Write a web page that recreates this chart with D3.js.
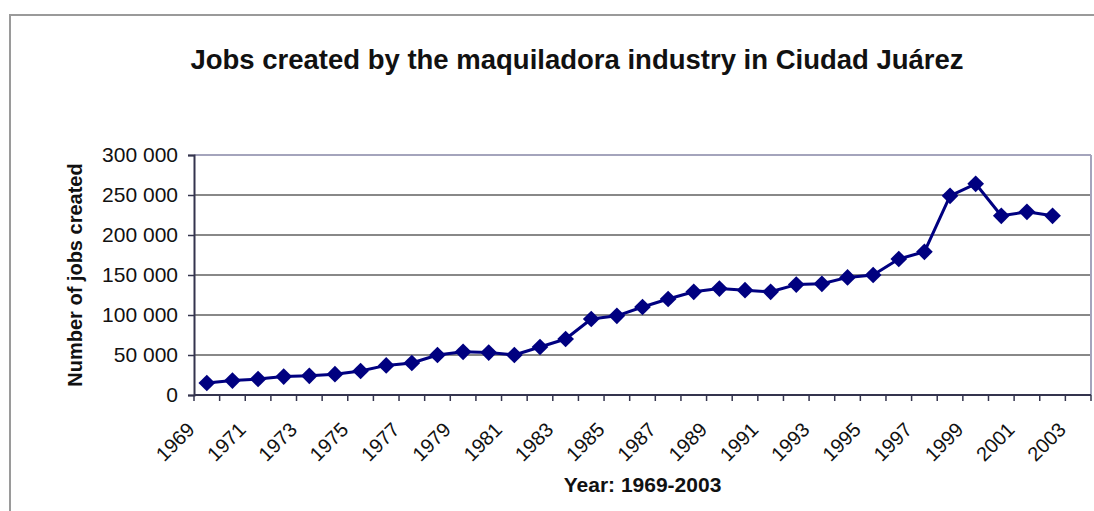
<!DOCTYPE html>
<html>
<head>
<meta charset="utf-8">
<script src="https://cdn.jsdelivr.net/npm/d3@7"></script>
<style>
  html, body { margin: 0; padding: 0; background: #fff; }
  svg { display: block; font-family: "Liberation Sans", Arial, sans-serif; }
</style>
</head>
<body>
<svg id="chart" width="1094" height="511"></svg>
<script>
// Category axis: one slot per year
const years = d3.range(1969, 2004);
// Jobs created per year (2003 has no reported value)
const jobs = [
  15000, 18000, 20000, 23000, 24000, 26000, 30000, 37000, 40000, 50000,
  54000, 53000, 50000, 60000, 70000, 95000, 99000, 110000, 120000, 129000,
  133000, 131000, 129000, 138000, 139000, 147000, 150000, 170000, 179000, 249000,
  264000, 224000, 229000, 224000, null
];
const yTicks = [0, 50000, 100000, 150000, 200000, 250000, 300000];
const xLabelYears = years.filter((y, i) => i % 2 === 0);

const titleText = "Jobs created by the maquiladora industry in Ciudad Juárez";
const yTitle = "Number of jobs created";
const xTitle = "Year: 1969-2003";

const svg = d3.select("#chart");
const plot = { left: 194, right: 1091, top: 155, bottom: 395 };

const locale = d3.formatLocale({ decimal: ".", thousands: " ", grouping: [3], currency: ["", ""] });
const fmt = locale.format(",d");

const x = d3.scaleBand().domain(years).range([plot.left, plot.right]).padding(0);
const y = d3.scaleLinear().domain([0, 300000]).range([plot.bottom, plot.top]);

// Outer chart frame
svg.append("rect")
  .attr("x", 10).attr("y", 15).attr("width", 1200).attr("height", 600)
  .attr("fill", "none").attr("stroke", "#9a9a9a").attr("stroke-width", 2);

// Title
svg.append("text")
  .attr("x", 577).attr("y", 69)
  .attr("text-anchor", "middle")
  .attr("font-size", 27.5).attr("font-weight", "bold").attr("fill", "#111")
  .text(titleText);

// Horizontal gridlines
svg.append("g")
  .selectAll("line")
  .data(yTicks.filter(d => d > 0))
  .join("line")
  .attr("x1", plot.left).attr("x2", plot.right)
  .attr("y1", d => y(d)).attr("y2", d => y(d))
  .attr("stroke", d => d === 300000 ? "#a4a4bc" : "#888888")
  .attr("stroke-width", 2);

// Right border of the plot area
svg.append("line")
  .attr("x1", plot.right).attr("x2", plot.right)
  .attr("y1", plot.top).attr("y2", plot.bottom)
  .attr("stroke", "#a4a4bc").attr("stroke-width", 2);

// Y axis
const yAxis = svg.append("g")
  .attr("transform", `translate(${plot.left},0)`)
  .call(d3.axisLeft(y).tickValues(yTicks).tickFormat(fmt).tickSize(6).tickPadding(10));
yAxis.select(".domain").attr("stroke", "#34344e").attr("stroke-width", 2);
yAxis.selectAll(".tick line").attr("stroke", "#34344e").attr("stroke-width", 1.5);
yAxis.selectAll(".tick text")
  .attr("font-size", 21).attr("fill", "#111")
  .attr("font-family", "Liberation Sans, Arial, sans-serif");

// X axis: ticks sit on the slot boundaries
const xAxisG = svg.append("g").attr("transform", `translate(0,${plot.bottom})`);
xAxisG.append("line")
  .attr("x1", plot.left).attr("x2", plot.right)
  .attr("stroke", "#34344e").attr("stroke-width", 2);
xAxisG.selectAll("line.tick")
  .data(years.concat([null]))
  .join("line")
  .attr("class", "tick")
  .attr("x1", (d, i) => plot.left + i * x.step())
  .attr("x2", (d, i) => plot.left + i * x.step())
  .attr("y1", 0).attr("y2", 6)
  .attr("stroke", "#34344e").attr("stroke-width", 1.5);
xAxisG.selectAll("text")
  .data(xLabelYears)
  .join("text")
  .attr("text-anchor", "end")
  .attr("font-size", 20).attr("fill", "#111")
  .attr("transform", d => `translate(${x(d) + x.bandwidth() / 2 - 11},36) rotate(-45)`)
  .text(d => d);

// Axis titles
svg.append("text")
  .attr("transform", `translate(82,275) rotate(-90)`)
  .attr("text-anchor", "middle")
  .attr("font-size", 20).attr("font-weight", "bold").attr("fill", "#111")
  .text(yTitle);
svg.append("text")
  .attr("x", (plot.left + plot.right) / 2).attr("y", 492)
  .attr("text-anchor", "middle")
  .attr("font-size", 21).attr("font-weight", "bold").attr("fill", "#111")
  .text(xTitle);

// Series line and diamond markers
const pts = years.map((yr, i) => ({ year: yr, value: jobs[i] })).filter(d => d.value != null);
const cx = d => x(d.year) + x.bandwidth() / 2;

svg.append("path")
  .datum(pts)
  .attr("fill", "none")
  .attr("stroke", "#000080")
  .attr("stroke-width", 3)
  .attr("stroke-linejoin", "round")
  .attr("d", d3.line().x(cx).y(d => y(d.value)));

const diamond = d3.symbol().type(d3.symbolSquare).size(140);
svg.append("g")
  .selectAll("path")
  .data(pts)
  .join("path")
  .attr("transform", d => `translate(${cx(d)},${y(d.value)}) rotate(45)`)
  .attr("d", diamond)
  .attr("fill", "#000080");
</script>
</body>
</html>
